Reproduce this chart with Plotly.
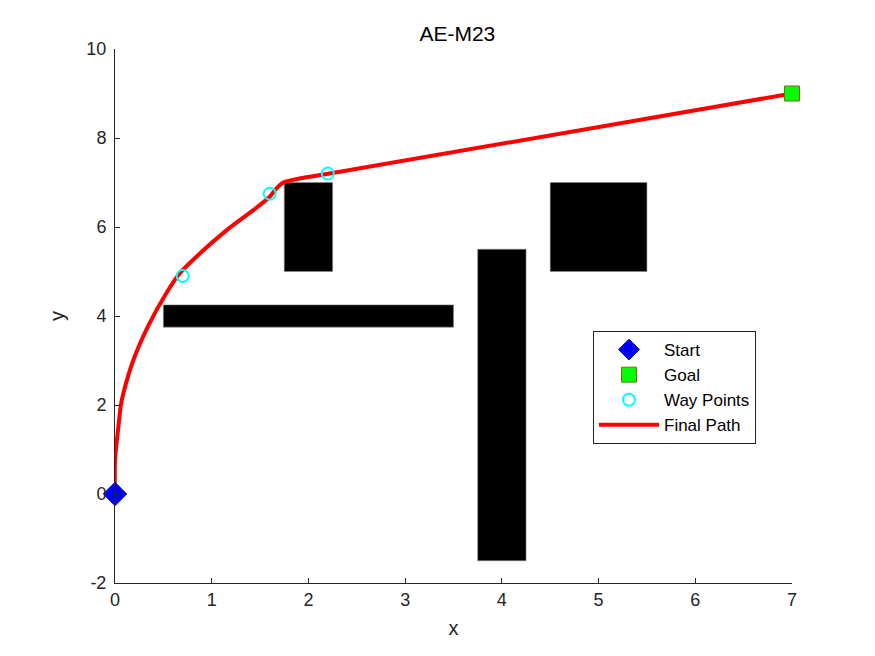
import plotly.graph_objects as go

# Data
path_x = [0.0, 0.0, 0.035, 0.06, 0.086, 0.19, 0.34, 0.53, 0.67, 0.88, 1.155, 1.43, 1.60, 1.67, 1.74, 1.84, 2.19, 7.0]
path_y = [0.0, 0.76, 1.51, 1.99, 2.26, 3.01, 3.76, 4.51, 4.96, 5.41, 5.93, 6.38, 6.68, 6.87, 7.0, 7.06, 7.19, 9.0]
way_x = [0.7, 1.6, 2.2]
way_y = [4.9, 6.75, 7.2]
start_xy = (0.0, 0.0)
goal_xy = (7.0, 9.0)
# obstacles: x0, x1, y0, y1
obs_x0 = [0.5, 1.75, 3.75, 4.5]
obs_x1 = [3.5, 2.25, 4.25, 5.5]
obs_y0 = [3.75, 5.0, -1.5, 5.0]
obs_y1 = [4.25, 7.0, 5.5, 7.0]
x_ticks = [0, 1, 2, 3, 4, 5, 6, 7]
y_ticks = [-2, 0, 2, 4, 6, 8, 10]

# page body has an 8px default margin; compensate so the plot area lands where the reference has it
OFF = 8
W, H = 875 - OFF, 656 - OFF

fig = go.Figure()
shapes = []
for a, b, c, d in zip(obs_x0, obs_x1, obs_y0, obs_y1):
    shapes.append(dict(type="rect", xref="x", yref="y", x0=a, x1=b, y0=c, y1=d,
                       fillcolor="black", line=dict(color="#888888", width=0.6), layer="below"))

fig.add_trace(go.Scatter(x=path_x, y=path_y, mode="lines", name="Final Path",
                         line=dict(color="#ff0000", width=4, shape="spline", smoothing=0.8),
                         showlegend=False, cliponaxis=False))
fig.add_trace(go.Scatter(x=[start_xy[0]], y=[start_xy[1]], mode="markers", name="Start",
                         marker=dict(symbol="diamond", size=18, color="#0000ff",
                                     line=dict(color="#0000cc", width=1)), cliponaxis=False))
fig.add_trace(go.Scatter(x=[goal_xy[0]], y=[goal_xy[1]], mode="markers", name="Goal",
                         marker=dict(symbol="square", size=15, color="#00ff00",
                                     line=dict(color="#7f6a1a", width=1)), cliponaxis=False))
fig.add_trace(go.Scatter(x=way_x, y=way_y, mode="markers", name="Way Points",
                         marker=dict(symbol="circle-open", size=12, color="#00ffff",
                                     line=dict(width=2)), cliponaxis=False))
# legend entry for path
fig.add_trace(go.Scatter(x=[None], y=[None], mode="lines", name="Final Path",
                         line=dict(color="#ff0000", width=4)))

font = "Liberation Sans, Arial, sans-serif"
fig.update_layout(
    width=W, height=H,
    margin=dict(l=115 - OFF, r=83, t=49 - OFF, b=73),
    paper_bgcolor="white", plot_bgcolor="white",
    shapes=shapes,
    title=dict(text="AE-M23", x=(115 + 792) / 2 / 875, xanchor="center",
               yref="container", y=1 - (34 - OFF) / H, yanchor="middle", automargin=False,
               font=dict(family=font, size=21, color="#000000")),
    font=dict(family=font, size=18, color="#262626"),
    xaxis=dict(range=[0, 7], tickvals=x_ticks, ticktext=[str(v) for v in x_ticks],
               ticks="inside", ticklen=5, tickcolor="#262626", automargin=False,
               showline=True, linecolor="#262626", linewidth=1, showgrid=False, zeroline=False,
               title=dict(text="x", font=dict(size=20), standoff=12), tickfont=dict(size=18)),
    yaxis=dict(range=[-2, 10], tickvals=y_ticks, ticktext=[str(v) for v in y_ticks],
               ticks="inside", ticklen=5, tickcolor="#262626", automargin=False,
               showline=True, linecolor="#262626", linewidth=1, showgrid=False, zeroline=False,
               ticklabelstandoff=4,
               title=dict(text="y", font=dict(size=20), standoff=16), tickfont=dict(size=18)),
    legend=dict(x=(593 - 115) / 677, y=(583 - 331) / 534, xanchor="left", yanchor="top",
                bgcolor="white", bordercolor="#262626", borderwidth=1,
                font=dict(family=font, size=17, color="#000000"), itemwidth=60,
                tracegroupgap=0),
)
fig.write_html("out.html")
